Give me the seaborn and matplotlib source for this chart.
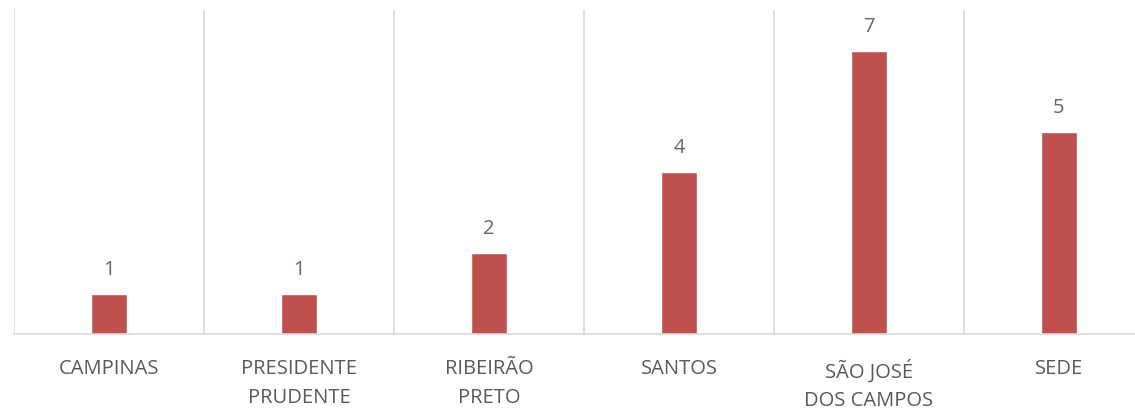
import numpy as np
import pandas as pd
import matplotlib
matplotlib.use("Agg")
import matplotlib.pyplot as plt
import seaborn as sns

categories = ["CAMPINAS", "PRESIDENTE\nPRUDENTE", "RIBEIRÃO\nPRETO", "SANTOS",
              "SÃO JOSÉ\nDOS CAMPOS", "SEDE"]
values = [1, 1, 2, 4, 7, 5]

sns.set_theme(style="white")
plt.rcParams['font.family'] = ['Open Sans', 'DejaVu Sans']

df = pd.DataFrame({"cat": categories, "val": values})

fig = plt.figure(figsize=(11.35, 4.12), dpi=100)
ax = fig.add_axes([14/1135, 78/412, 1140/1135, 324/412])
sns.barplot(data=df, x="cat", y="val", color="#C0504D", width=0.19,
            saturation=1, ax=ax)

ax.set_xlim(-0.5, 5.5)
ax.set_ylim(0, 8)
ax.set_xlabel("")
ax.set_ylabel("")
ax.set_yticks([])
for s in ["top", "right", "left"]:
    ax.spines[s].set_visible(False)
ax.spines["bottom"].set_color("#D9D9D9")
ax.spines["bottom"].set_linewidth(1.2)

ax.set_xticks(np.arange(-0.5, 6, 1), minor=True)
ax.grid(False)
ax.grid(which="minor", axis="x", color="#D9D9D9", linewidth=1.2)
ax.tick_params(axis="x", which="both", length=0, pad=18)
ax.set_xticks(range(len(categories)))
ax.set_xticklabels(categories, fontsize=14.5, color="#595959", linespacing=1.6)

for i, v in enumerate(values):
    ax.annotate(str(v), (i, v), xytext=(0, 10), textcoords="offset points",
                ha="center", va="bottom", fontsize=14.5, color="#666666")

fig.savefig("out.png", dpi=100)
